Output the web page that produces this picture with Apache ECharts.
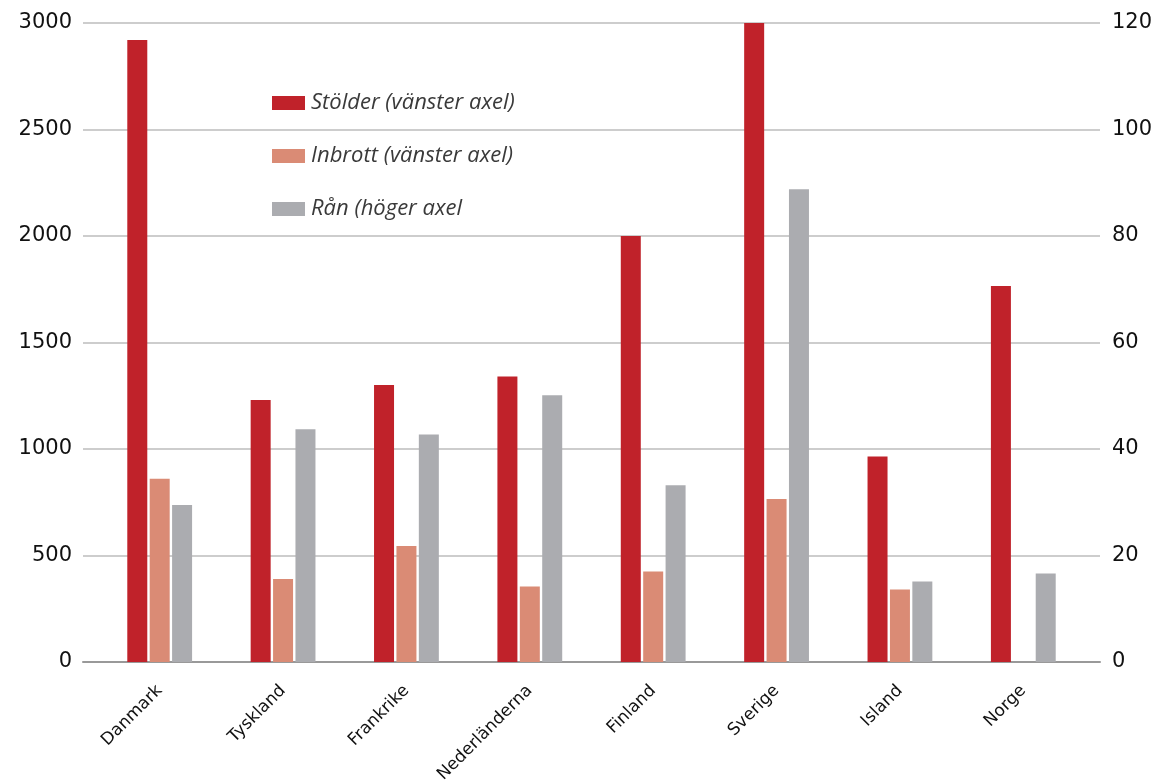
<!DOCTYPE html>
<html><head><meta charset="utf-8">
<script src="https://cdn.jsdelivr.net/npm/echarts@6/dist/echarts.min.js"></script>
<style>html,body{margin:0;padding:0;background:#fff}#c{width:1154px;height:780px}</style>
</head><body><div id="c"></div>
<script>
const categories = ['Danmark','Tyskland','Frankrike','Nederländerna','Finland','Sverige','Island','Norge'];
const stolder = [2920, 1230, 1300, 1340, 2000, 3000, 965, 1765];
const inbrott = [860, 390, 545, 355, 425, 765, 340, null];
const ran = [29.5, 43.7, 42.7, 50.1, 33.2, 88.8, 15.1, 16.6];
const leftTicks = {min: 0, max: 3000, interval: 500};
const rightTicks = {min: 0, max: 120, interval: 20};
const seriesNames = ['Stölder (vänster axel)', 'Inbrott (vänster axel)', 'Rån (höger axel'];

const numFont = {fontFamily: 'DejaVu Sans', fontSize: 21, color: '#111', formatter: v => String(v)};
const chart = echarts.init(document.getElementById('c'), null, {renderer: 'canvas'});
chart.setOption({
  animation: false,
  backgroundColor: '#fff',
  grid: [
    {left: 83, right: 54, top: 23, bottom: 118, containLabel: false, outerBoundsMode: 'none'},
    {left: 98, right: 69, top: 23, bottom: 118, containLabel: false, outerBoundsMode: 'none'}
  ],
  legend: {
    orient: 'vertical', left: 267, top: 86, itemWidth: 33, itemHeight: 14, itemGap: 29,
    icon: 'rect',
    textStyle: {fontFamily: 'Open Sans', fontStyle: 'italic', fontWeight: 400, fontSize: 22, lineHeight: 24, color: '#3a3a3a', padding: [0,0,0,1]},
    data: seriesNames
  },
  xAxis: [
    {gridIndex: 0, type: 'category', data: categories, axisLabel: {show: false}, axisTick: {show: false},
     axisLine: {show: true, lineStyle: {color: '#999', width: 2}}},
    {gridIndex: 1, type: 'category', data: categories, axisTick: {show: false}, axisLine: {show: false},
     axisLabel: {rotate: 45, interval: 0, margin: 26, fontFamily: 'DejaVu Sans', fontSize: 17, color: '#111'}}
  ],
  yAxis: [
    {gridIndex: 0, type: 'value', position: 'left', ...leftTicks,
     axisLine: {show: false}, axisTick: {show: false},
     axisLabel: {...numFont, margin: 11},
     splitLine: {lineStyle: {color: '#bdbdbd', width: 1.5}}},
    {gridIndex: 0, type: 'value', position: 'right', ...rightTicks,
     axisLine: {show: false}, axisTick: {show: false},
     axisLabel: {...numFont, margin: 12}, splitLine: {show: false}},
    {gridIndex: 1, type: 'value', ...leftTicks, show: false},
    {gridIndex: 1, type: 'value', position: 'right', ...rightTicks, show: false}
  ],
  series: [
    {name: seriesNames[0], type: 'bar', xAxisIndex: 1, yAxisIndex: 2, data: stolder, barWidth: 20, barGap: '12%',
     itemStyle: {color: '#C0222A'}},
    {name: seriesNames[1], type: 'bar', xAxisIndex: 1, yAxisIndex: 2, data: inbrott, barWidth: 20, barGap: '12%',
     itemStyle: {color: '#DA8B75'}},
    {name: seriesNames[2], type: 'bar', xAxisIndex: 1, yAxisIndex: 3, data: ran, barWidth: 20, barGap: '12%',
     itemStyle: {color: '#ABACB0'}}
  ]
});
</script></body></html>
